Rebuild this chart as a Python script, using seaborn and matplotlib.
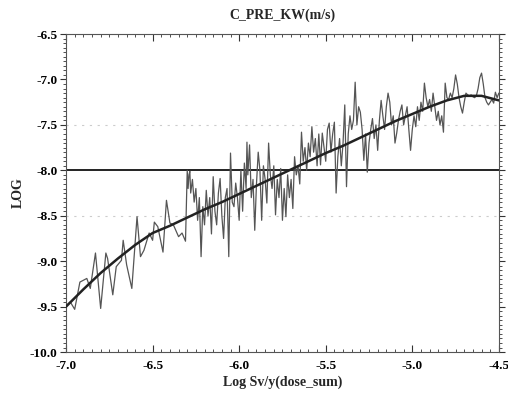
import numpy as np
import pandas as pd
import seaborn as sns
import matplotlib
matplotlib.use("Agg")
import matplotlib.pyplot as plt
import matplotlib.transforms as mtransforms
from matplotlib.ticker import MultipleLocator, FormatStrFormatter

# noisy sample series (log dose vs log conductivity)
dose_x = [
    -7.00, -6.975, -6.95, -6.92, -6.88, -6.86, -6.83, -6.80, -6.77, -6.76,
    -6.73, -6.71, -6.68, -6.67, -6.65, -6.62, -6.59, -6.57, -6.55, -6.52,
    -6.50, -6.49, -6.47, -6.44, -6.42, -6.40, -6.38, -6.35, -6.33, -6.31,
    -6.30, -6.295, -6.29, -6.285, -6.28, -6.27, -6.26, -6.25, -6.24, -6.23,
    -6.22, -6.21, -6.20, -6.19, -6.18, -6.17, -6.16, -6.15, -6.14, -6.13,
    -6.12, -6.11, -6.10, -6.09, -6.08, -6.07, -6.06, -6.05, -6.04, -6.03,
    -6.02, -6.01, -6.00, -5.99, -5.98, -5.97, -5.96, -5.955, -5.95, -5.94,
    -5.93, -5.92, -5.91, -5.90, -5.89, -5.88, -5.87, -5.86, -5.85, -5.84,
    -5.83, -5.82, -5.81, -5.80, -5.79, -5.78, -5.77, -5.76, -5.75, -5.74,
    -5.73, -5.72, -5.71, -5.70, -5.69, -5.68, -5.67, -5.66, -5.65, -5.64,
    -5.63, -5.62, -5.61, -5.60, -5.59, -5.58, -5.57, -5.56, -5.55, -5.54,
    -5.53, -5.52, -5.51, -5.50, -5.49, -5.48, -5.47, -5.46, -5.45, -5.44,
    -5.43, -5.42, -5.41, -5.40, -5.39, -5.38, -5.37, -5.36, -5.35, -5.34,
    -5.33, -5.32, -5.31, -5.30, -5.29, -5.28, -5.27, -5.26, -5.25, -5.24,
    -5.23, -5.22, -5.21, -5.20, -5.19, -5.18, -5.17, -5.16, -5.15, -5.14,
    -5.13, -5.12, -5.11, -5.10, -5.09, -5.08, -5.07, -5.06, -5.05, -5.04,
    -5.03, -5.02, -5.01, -5.00, -4.99, -4.98, -4.97, -4.96, -4.95, -4.94,
    -4.93, -4.92, -4.91, -4.90, -4.89, -4.88, -4.87, -4.86, -4.85, -4.84,
    -4.83, -4.82, -4.81, -4.80, -4.79, -4.78, -4.77, -4.76, -4.75, -4.74,
    -4.73, -4.72, -4.71, -4.70, -4.69, -4.68, -4.67, -4.66, -4.65, -4.64,
    -4.63, -4.62, -4.61, -4.60, -4.59, -4.58, -4.57, -4.56, -4.55, -4.54,
    -4.53, -4.52, -4.51, -4.50,
]
log_kw = [
    -9.49, -9.45, -9.53, -9.23, -9.19, -9.30, -8.91, -9.52, -8.91, -8.97,
    -9.37, -9.06, -8.99, -8.77, -9.04, -9.30, -8.51, -8.95, -8.88, -8.69,
    -8.77, -8.57, -8.62, -8.90, -8.33, -8.58, -8.60, -8.73, -8.69, -8.78,
    -8.00, -8.20, -8.05, -8.01, -8.25, -8.10, -8.35, -8.20, -8.55, -8.30,
    -8.95, -8.40, -8.60, -8.22, -8.50, -8.30, -8.70, -8.07, -8.45, -8.60,
    -8.25, -8.09, -8.50, -8.75, -8.30, -8.20, -8.95, -7.81, -8.35, -8.40,
    -8.14, -8.30, -8.55, -8.00, -8.45, -7.92, -8.20, -7.69, -8.05, -7.72,
    -8.30, -8.10, -8.66, -8.15, -7.80, -8.00, -8.55, -7.95, -8.10, -8.36,
    -7.70, -8.05, -8.20, -7.95, -8.49, -8.10, -8.30, -7.98, -8.55, -8.20,
    -8.51, -8.05, -8.30, -8.10, -8.42, -7.85, -8.05, -7.95, -8.15, -7.58,
    -7.90, -7.75, -8.00, -7.70, -7.85, -7.52, -7.80, -7.65, -7.95, -7.60,
    -7.94, -7.59, -7.75, -7.90, -7.55, -7.48, -7.80, -7.60, -7.47, -8.25,
    -7.85, -7.65, -7.95, -7.70, -7.28, -8.18, -7.60, -7.40, -7.55, -7.45,
    -7.03, -7.50, -7.30, -7.36, -7.55, -7.89, -7.60, -8.02, -7.70, -7.55,
    -7.43, -7.65, -7.50, -7.78, -7.45, -7.23, -7.40, -7.55, -7.30, -7.15,
    -7.25, -7.50, -7.40, -7.70, -7.59, -7.45, -7.35, -7.28, -7.50, -7.40,
    -7.30, -7.55, -7.78, -7.55, -7.40, -7.52, -7.30, -7.45, -7.25, -7.35,
    -7.04, -7.20, -7.30, -7.22, -7.35, -7.15, -7.30, -7.45, -7.35, -7.50,
    -7.40, -7.58, -7.04, -7.20, -7.22, -7.15, -7.20, -7.10, -6.95, -7.05,
    -7.20, -7.30, -7.37, -7.25, -7.15, -7.17, -7.18, -7.17, -7.19, -7.20,
    -7.18, -7.10, -6.98, -6.93, -7.05, -7.20, -7.25, -7.28, -7.25, -7.22,
    -7.26, -7.14, -7.20, -7.15,
]

# fitted trend curve
fit_x = [-7.0, -6.9, -6.8, -6.7, -6.6, -6.5, -6.4, -6.3, -6.2, -6.1, -6.0,
         -5.9, -5.8, -5.7, -5.6, -5.5, -5.4, -5.3, -5.2, -5.1, -5.0,
         -4.9, -4.8, -4.7, -4.6, -4.5]
fit_y = [-9.50, -9.31, -9.13, -8.97, -8.82, -8.69, -8.61, -8.52, -8.43, -8.35, -8.26,
         -8.17, -8.08, -7.99, -7.90, -7.81, -7.73, -7.64, -7.55, -7.46, -7.38,
         -7.30, -7.23, -7.18, -7.18, -7.23]

limit_y = -8.0
grid_y = [-7.5, -8.5]

sns.set_style("ticks")
plt.rcParams['font.family'] = ['Liberation Serif', 'DejaVu Serif']

fig = plt.figure(figsize=(5.08, 3.96), dpi=100)
ax = fig.add_axes([0.13, 0.111, 0.852, 0.803])

noise = pd.DataFrame({'x': dose_x, 'y': log_kw})
fit = pd.DataFrame({'x': fit_x, 'y': fit_y})

for g in grid_y:
    ax.axhline(g, color='#cccccc', lw=0.8, ls=(0, (2, 5)), zorder=0)
ax.axhline(limit_y, color='#222222', lw=1.4, zorder=2)

sns.lineplot(data=noise, x='x', y='y', ax=ax, color='#555555', lw=0.9,
             estimator=None, sort=False, zorder=3)
sns.lineplot(data=fit, x='x', y='y', ax=ax, color='#222222', lw=1.8,
             estimator=None, zorder=4)

ax.set_xlim(-7.0, -4.5)
ax.set_ylim(-10.0, -6.5)
ax.xaxis.set_major_locator(MultipleLocator(0.5))
ax.xaxis.set_minor_locator(MultipleLocator(0.05))
ax.yaxis.set_major_locator(MultipleLocator(0.5))
ax.yaxis.set_minor_locator(MultipleLocator(0.05))
ax.xaxis.set_major_formatter(FormatStrFormatter('%.1f'))
ax.yaxis.set_major_formatter(FormatStrFormatter('%.1f'))

ax.tick_params(axis='x', which='both', direction='in', top=True, bottom=True,
               labelsize=9.5, colors='#333333', labelcolor='black', pad=6)
ax.tick_params(axis='x', which='major', length=5, width=0.8)
ax.tick_params(axis='x', which='minor', length=2.5, width=0.6)
ax.tick_params(axis='y', which='both', direction='out', left=True, right=True,
               labelsize=9.5, colors='#333333', labelcolor='black', pad=2)
ax.tick_params(axis='y', which='major', length=4, width=0.8)
ax.tick_params(axis='y', which='minor', length=2.5, width=0.6)
for lab in ax.get_xticklabels() + ax.get_yticklabels():
    lab.set_fontweight('bold')
for s in ax.spines.values():
    s.set_color('#555555')
    s.set_linewidth(0.8)

# keep the last x label inside the figure edge
last = ax.get_xticklabels()[-1]
last.set_transform(last.get_transform() + mtransforms.ScaledTranslation(-3 / 100, 0, fig.dpi_scale_trans))

ax.set_title('C_PRE_KW(m/s)', fontsize=10, fontweight='bold', pad=11)
ax.set_xlabel('Log Sv/y(dose_sum)', fontsize=10, fontweight='bold', labelpad=2)
ax.set_ylabel('LOG', fontsize=10, fontweight='bold', labelpad=4)

plt.savefig('out.png', dpi=100)
